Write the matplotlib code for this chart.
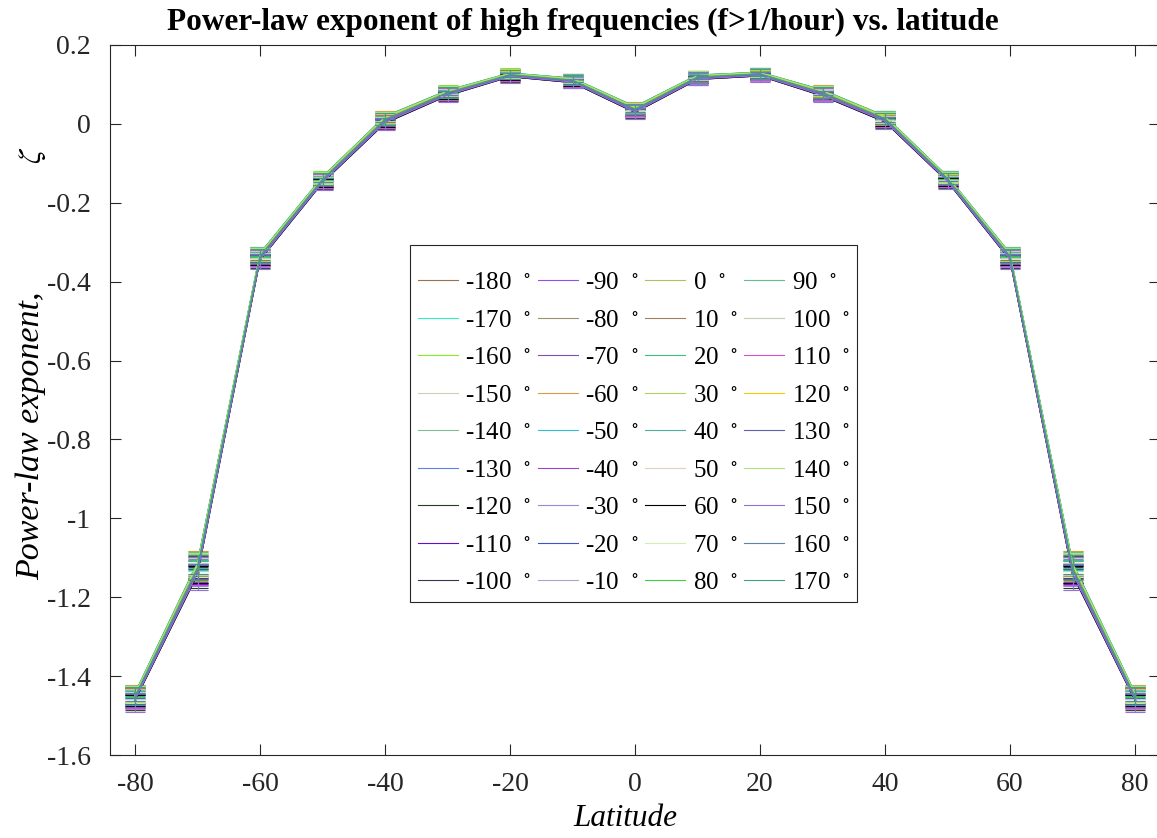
import matplotlib
matplotlib.use('Agg')
from matplotlib import pyplot as plt

# latitude bins and zonal-mean exponent
latitude = [-80, -70, -60, -50, -40, -30, -20, -10, 0, 10, 20, 30, 40, 50, 60, 70, 80]
zeta_mean = [-1.453, -1.128, -0.337, -0.142, 0.010, 0.078, 0.124, 0.110, 0.036,
             0.118, 0.126, 0.078, 0.012, -0.140, -0.337, -1.128, -1.453]
# how far the individual longitudes scatter around the mean, per latitude
zeta_spread = [0.010, 0.016, 0.009, 0.008, 0.009, 0.007, 0.005, 0.006, 0.008,
               0.006, 0.005, 0.008, 0.008, 0.007, 0.009, 0.016, 0.010]
# largest error bar half-height per latitude
zeta_err = [0.030, 0.042, 0.024, 0.020, 0.020, 0.018, 0.016, 0.016, 0.017,
            0.016, 0.016, 0.018, 0.020, 0.020, 0.024, 0.042, 0.030]

longitude = list(range(-180, 180, 10))
# relative departure of each longitude from the zonal mean (read by eye)
lon_offset = [-0.8, 0.9, 0.6, -0.3, 0.7, 1.0, -0.5, -0.9, -0.6,
              -0.2, 0.1, -0.7, 0.4, 0.8, -0.4, -0.1, 0.3, -0.6,
              0.2, -0.3, 0.5, 0.7, 0.9, -0.8, -0.9, 0.6, 1.0, 0.5,
              0.3, -0.2, 0.4, -0.5, 0.8, -0.7, 0.0, 0.2]
# relative size of each longitude's error bars
lon_err = [0.55, 0.30, 0.85, 0.45, 0.70, 0.20, 0.95, 0.60, 0.35,
           0.80, 0.50, 0.25, 0.90, 0.40, 0.65, 1.00, 0.15, 0.75,
           0.45, 0.85, 0.30, 0.60, 0.20, 0.95, 0.50, 0.70, 0.35, 0.80,
           0.25, 0.90, 0.55, 0.40, 0.65, 1.00, 0.30, 0.75]
colors = ['#a0704a', '#30f0c0', '#80f020', '#d0d0b0', '#80c090', '#6080f0',
          '#204020', '#6010d0', '#403050', '#9050f0', '#a09070', '#8050b0',
          '#d0a040', '#30c0d0', '#a040d0', '#9090d0', '#4050d0', '#b0a0d0',
          '#b0c060', '#a08060', '#40c080', '#b0d060', '#50b0a0', '#e0d0c0',
          '#000000', '#d0f0b0', '#40d040', '#60c090', '#c0d0b0', '#d050d0',
          '#f0d000', '#6060b0', '#b0e080', '#9070e0', '#6080b0', '#40a080']

plt.rcParams['font.family'] = 'Liberation Serif'
plt.rcParams['mathtext.fontset'] = 'stix'

fig = plt.figure(figsize=(11.57, 8.38), dpi=100)
ax = fig.add_axes([110 / 1157, 83 / 838, 1050 / 1157, 710 / 838])

handles = []
for lon, off, ek, c in zip(longitude, lon_offset, lon_err, colors):
    y = [m + s * off for m, s in zip(zeta_mean, zeta_spread)]
    e = [v * ek for v in zeta_err]
    ln, = ax.plot(latitude, y, color=c, lw=0.8, label='%d  $^{\\circ}$' % lon)
    ax.errorbar(latitude, y, yerr=e, fmt='none', ecolor=c,
                elinewidth=0.8, capsize=7.2, capthick=0.8)
    handles.append(ln)

ax.set_xlim(-84, 84)
ax.set_ylim(-1.6, 0.2)
ax.set_xticks(range(-80, 81, 20))
ax.set_yticks([-1.6, -1.4, -1.2, -1, -0.8, -0.6, -0.4, -0.2, 0, 0.2])
ax.set_yticklabels(['-1.6', '-1.4', '-1.2', '-1', '-0.8', '-0.6', '-0.4', '-0.2', '0', '0.2'])
ax.set_xticklabels(['-80', '-60', '-40', '-20', '0', '20', '40', '60', '80'])
ax.tick_params(direction='in', length=8, width=0.8, top=True, right=True,
               labelsize=20, colors='#262626')
ax.tick_params(axis='y', pad=14)
ax.tick_params(axis='x', pad=12)
for sp in ax.spines.values():
    sp.set_color('#262626')
    sp.set_linewidth(0.8)

fig.text(583 / 1157, 1 - 22 / 838, 'Power-law exponent of high frequencies (f>1/hour) vs. latitude',
         ha='center', va='center', fontsize=22.5, fontweight='bold')
fig.text(625 / 1157, 1 - 818 / 838, 'Latitude', ha='center', va='center',
         fontsize=22.5, style='italic')
fig.text(31 / 1157, 1 - 580 / 838, 'Power-law exponent,', ha='center', va='bottom',
         fontsize=24.5, style='italic', rotation=90)
fig.text(33 / 1157, 1 - 155 / 838, '$\\zeta$', ha='center', va='center',
         fontsize=23, rotation=90)

leg = ax.legend(handles=handles, ncol=4, loc='upper left',
                bbox_to_anchor=(0.286, 0.718), borderaxespad=0, fontsize=18,
                handlelength=1.6, handletextpad=0.3, columnspacing=0.25,
                labelspacing=0.6, fancybox=False, framealpha=1,
                edgecolor='#262626', borderpad=0.3,
                title=' ', title_fontsize=3)
leg.get_frame().set_linewidth(0.8)

plt.savefig('out.png', dpi=100)
